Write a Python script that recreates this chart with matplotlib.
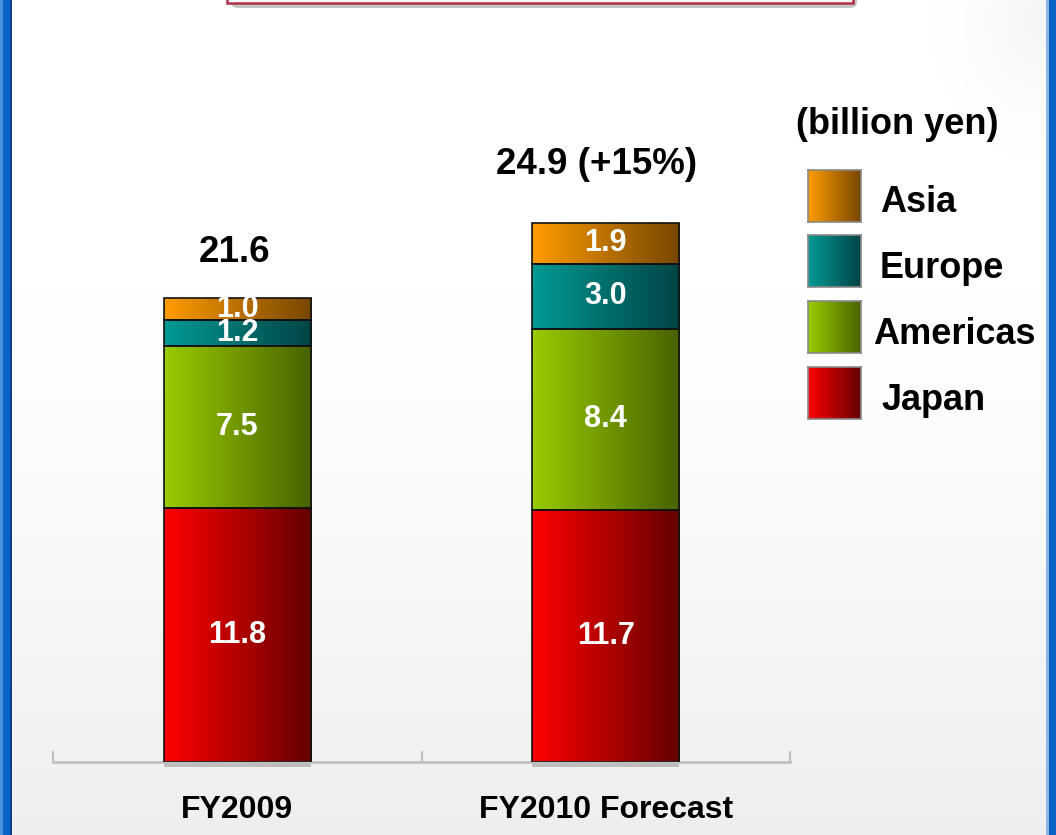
import numpy as np
import matplotlib.pyplot as plt
from matplotlib.colors import LinearSegmentedColormap
from matplotlib.patches import Rectangle, FancyBboxPatch

plt.rcParams["font.family"] = ["Liberation Sans", "DejaVu Sans"]
plt.rcParams["font.weight"] = "bold"

# Sales by region (billion yen)
categories = ["FY2009", "FY2010 Forecast"]
regions = ["Japan", "Americas", "Europe", "Asia"]
japan = [11.8, 11.7]
americas = [7.5, 8.4]
europe = [1.2, 3.0]
asia = [1.0, 1.9]
total_labels = ["21.6", "24.9 (+15%)"]
unit_label = "(billion yen)"

series = [japan, americas, europe, asia]

# left (bright) -> right (dark) gradient per region
grad_colors = {
    "Japan": ("#ff0000", "#640000"),
    "Americas": ("#99cc00", "#486200"),
    "Europe": ("#009a96", "#004444"),
    "Asia": ("#ff9c00", "#764600"),
}
cmaps = {k: LinearSegmentedColormap.from_list(k, v) for k, v in grad_colors.items()}
ramp = np.linspace(0, 1, 256).reshape(1, -1)

W, H = 1056, 835
fig = plt.figure(figsize=(W / 100, H / 100), dpi=100)


def fx(px):
    return px / W


def fy(py):
    return 1 - py / H


# page background: white fading to light grey at the bottom
bg = fig.add_axes([0, 0, 1, 1], zorder=-10)
bg.set_axis_off()
v = np.linspace(0, 1, 300)
shade = np.clip((v - 0.35) / 0.65, 0, 1) ** 1.3
img = np.ones((300, 1, 3)) * (1 - 0.065 * shade)[:, None, None]
bg.imshow(img, extent=[0, 1, 0, 1], aspect="auto", origin="upper")
# faint cloud in the top right corner
yy, xx = np.mgrid[0:200, 0:200]
d = np.sqrt(((xx - 190) / 120.0) ** 2 + ((yy - 20) / 150.0) ** 2)
alpha = np.clip(1 - d, 0, 1) ** 1.5 * 0.25
cloud = np.zeros((200, 200, 4))
cloud[..., :3] = 0.85
cloud[..., 3] = alpha
bg.imshow(cloud, extent=[fx(856), fx(1046), fy(200), fy(0)], aspect="auto")
bg.set_xlim(0, 1)
bg.set_ylim(0, 1)

# side frame
bg.add_patch(Rectangle((0, 0), fx(11), 1, color="#0a64c8", lw=0))
bg.add_patch(Rectangle((0, 0), fx(3), 1, color="#4a93e2", lw=0))
bg.add_patch(Rectangle((fx(10), 0), fx(1.5), 1, color="#0b3f88", lw=0))
bg.add_patch(Rectangle((fx(1049), 0), fx(7), 1, color="#0a64c8", lw=0))
bg.add_patch(Rectangle((fx(1046), 0), fx(3), 1, color="#8cb6ea", lw=0))

# bottom edge of the title box at the top
bg.add_patch(FancyBboxPatch((fx(231), fy(8)), fx(857) - fx(231), fy(-20) - fy(8),
                            boxstyle="round,pad=0,rounding_size=0.007",
                            fc="#c4c4c4", ec="none"))
bg.add_patch(Rectangle((fx(227), fy(3)), fx(853) - fx(227), fy(-20) - fy(3),
                       fc="white", ec="#b03048", lw=1.8))

# chart axes
ax = fig.add_axes([fx(53), fy(762), fx(790) - fx(53), fy(60) - fy(762)])
ax.patch.set_alpha(0)
x = np.arange(len(categories))
width = 0.4

bottoms = np.zeros(len(categories))
for name, vals in zip(regions, series):
    for i, val in enumerate(vals):
        x0, x1 = x[i] - width / 2, x[i] + width / 2
        y0, y1 = bottoms[i], bottoms[i] + val
        ax.imshow(ramp, cmap=cmaps[name], extent=[x0, x1, y0, y1],
                  aspect="auto", zorder=2)
        ax.add_patch(Rectangle((x0, y0), width, val, fill=False,
                               ec="#111111", lw=1.2, zorder=3))
        ax.text(x[i], y0 + val / 2, f"{val:.1f}", color="white",
                ha="center", va="center", fontsize=22, fontweight="bold",
                zorder=4)
    bottoms += np.array(vals)

# soft shadow under each bar
for i in x:
    ax.add_patch(Rectangle((i - width / 2, -0.22), width, 0.22,
                           fc="#bdbdbd", ec="none", zorder=1, clip_on=False))

# totals above the bars
total_pad = [(-3, 46), (-9, 58)]
for i, lab in enumerate(total_labels):
    ax.annotate(lab, (x[i], bottoms[i]), xytext=total_pad[i],
                textcoords="offset pixels", ha="center", va="center",
                fontsize=26.5, fontweight="bold", color="black")

ax.set_xlim(-0.5, 1.5)
ax.set_ylim(0, 32.55)
for s in ["top", "right", "left"]:
    ax.spines[s].set_visible(False)
ax.spines["bottom"].set_color("#c0c0c0")
ax.spines["bottom"].set_linewidth(2)
ax.set_yticks([])
ax.set_xticks(x)
ax.set_xticklabels(categories, fontsize=23, fontweight="bold")
ax.tick_params(axis="x", which="major", length=0, pad=24)
ax.set_xticks([-0.5, 0.5, 1.5], minor=True)
ax.tick_params(axis="x", which="minor", direction="in", length=8,
               width=1.5, color="#c0c0c0")

# legend
fig.text(fx(897), fy(125), unit_label, ha="center", va="center",
         fontsize=26, fontweight="bold")
legend_rows = [("Asia", 170, 880), ("Europe", 235, 880),
               ("Americas", 301, 873), ("Japan", 367, 882)]
for name, top, tx in legend_rows:
    lax = fig.add_axes([fx(808), fy(top + 52), fx(861) - fx(808), fy(top) - fy(top + 52)])
    lax.imshow(ramp, cmap=cmaps[name], aspect="auto")
    lax.set_xticks([])
    lax.set_yticks([])
    for sp in lax.spines.values():
        sp.set_color("#8a8a8a")
        sp.set_linewidth(1.2)
    fig.text(fx(tx), fy(top + 33), name, ha="left", va="center",
             fontsize=26, fontweight="bold")

fig.savefig("out.png", dpi=100)
